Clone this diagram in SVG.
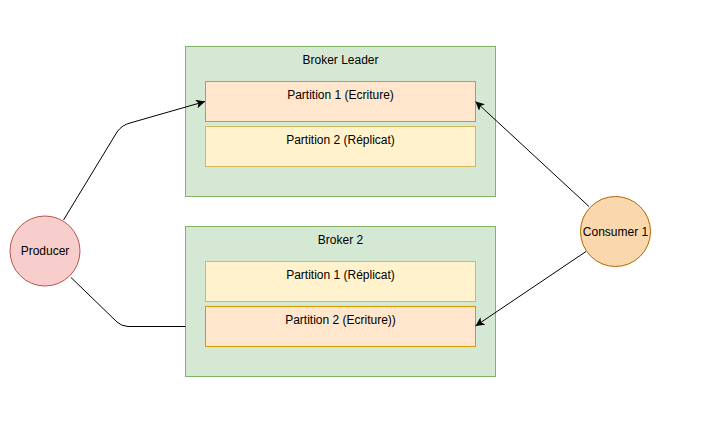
<svg xmlns="http://www.w3.org/2000/svg" width="701" height="447" viewBox="0 0 701 447">
<defs>
<style>
.broker{fill:#d5e8d4;stroke:#82b366;stroke-width:1}
.write{fill:#ffe6cc;stroke:#d79b00;stroke-width:1}
.rep{fill:#fff2cc;stroke:#d6b656;stroke-width:1}
.t{font-family:"Liberation Sans",Arial,Helvetica,sans-serif;font-size:12px;fill:#000;text-anchor:middle}
.e{fill:none;stroke:#000;stroke-width:1}
</style>
<marker id="arr" viewBox="0 0 10 10" refX="10" refY="5" markerWidth="9" markerHeight="9" markerUnits="userSpaceOnUse" orient="auto">
<path d="M0,0 L10,5 L0,10 L2.5,5 Z" fill="#000"/>
</marker>
</defs>
<rect width="701" height="447" fill="#fff"/>
<g id="broker-leader">
<rect class="broker" x="185.5" y="46.5" width="310" height="150"/>
<text class="t" x="340.5" y="64">Broker Leader</text>
</g>
<g id="bl-p1">
<rect class="write" x="205.5" y="81.5" width="270" height="40"/>
<text class="t" x="340.5" y="99">Partition 1 (Ecriture)</text>
</g>
<g id="bl-p2">
<rect class="rep" x="205.5" y="126.5" width="270" height="40"/>
<text class="t" x="340.5" y="144">Partition 2 (Réplicat)</text>
</g>
<g id="broker-2">
<rect class="broker" x="185.5" y="226.5" width="310" height="150"/>
<text class="t" x="340.5" y="244">Broker 2</text>
</g>
<g id="b2-p1">
<rect class="rep" x="205.5" y="261.5" width="270" height="40"/>
<text class="t" x="340.5" y="279">Partition 1 (Réplicat)</text>
</g>
<g id="b2-p2">
<rect class="write" x="205.5" y="306.5" width="270" height="40"/>
<text class="t" x="340.5" y="324">Partition 2 (Ecriture))</text>
</g>
<g id="producer">
<circle cx="45" cy="251" r="35" fill="#f8cecc" stroke="#b85450"/>
<text class="t" x="45" y="255">Producer</text>
</g>
<g id="consumer">
<circle cx="615.5" cy="231.5" r="35" fill="#fad7ac" stroke="#b46504"/>
<text class="t" x="615.5" y="235.5">Consumer 1</text>
</g>
<g id="connectors">
<path class="e" d="M63.5,220 L117,132 Q122,125 130,123 L205,101.5" marker-end="url(#arr)"/>
<path class="e" d="M71,277.5 L117,322 Q121,326 128,326.5 L185.5,326.5"/>
<path class="e" d="M589,206.5 L475.5,101.5" marker-end="url(#arr)"/>
<path class="e" d="M586,251.5 L475.5,326" marker-end="url(#arr)"/>
</g>
</svg>
